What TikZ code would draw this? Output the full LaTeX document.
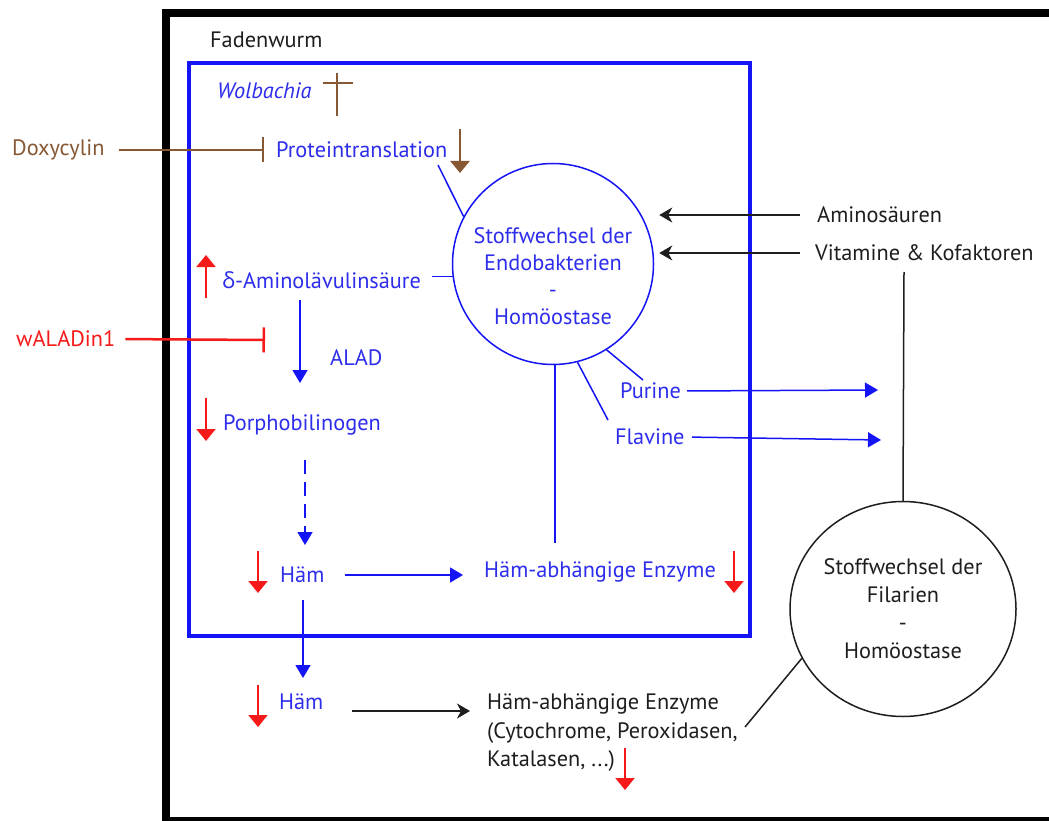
\documentclass[tikz,border=0pt]{standalone}
\usepackage{fontspec}
\setmainfont{PT Sans}
\newfontfamily\grk{Open Sans}
\usetikzlibrary{arrows.meta,calc,shapes.geometric}
\definecolor{bblue}{RGB}{20,20,245}
\definecolor{tblue}{RGB}{45,45,235}
\definecolor{brn}{RGB}{135,88,52}
\definecolor{rd}{RGB}{245,25,25}
\definecolor{ink}{RGB}{30,30,30}
\begin{document}
\begin{tikzpicture}[x=1pt,y=-1pt,
  txt/.style={inner sep=0pt, anchor=west, font=\fontsize{22.3}{27}\selectfont},
  btxt/.style={txt, text=tblue},
  ktxt/.style={txt, text=ink},
  rtxt/.style={txt, text=rd},
  brtxt/.style={txt, text=brn},
  bline/.style={draw=bblue, line width=1.5pt},
  kline/.style={draw=ink, line width=1.5pt},
  barrow/.style={bline, -{Triangle[length=13pt,width=15pt]}},
  karrow/.style={kline, -{Stealth[length=13pt,width=15pt,inset=4pt]}},
  rarrow/.style={draw=rd, line width=2pt, -{Triangle[length=12pt,width=19pt]}},
  brarrow/.style={draw=brn, line width=2.5pt, -{Triangle[length=12pt,width=19pt]}},
  rinh/.style={draw=rd, line width=2.5pt, -{Bar[width=25pt]}},
  brinh/.style={draw=brn, line width=2.5pt, -{Bar[width=25pt]}}
]
\useasboundingbox (0,0) rectangle (1049,821);
\clip (0,0) rectangle (1049,821);
\fill[white] (0,0) rectangle (1049,821);

% frames
\draw[line width=8pt, draw=black] (1070,13.5) -- (166,13.5) -- (166,821) -- (1070,821);
\draw[draw=bblue, line width=4pt] (189,63) rectangle (750,636);

% text nodes
\node[ktxt] (fad) at (210,40) {Fadenwurm};
\node[btxt, font=\fontsize{22.3}{27}\selectfont\itshape] (wol) at (217,91) {Wolbachia};
\node[brtxt] (doxy) at (12,150) {Doxycylin};
\node[btxt] (prot) at (276,150) {Proteintranslation};
\node[ktxt] (amino) at (817,215) {Aminosäuren};
\node[ktxt] (vita) at (815,253) {Vitamine \& Kofaktoren};
\node[btxt] (dala) at (222,280) {{\grk δ}-Aminolävulinsäure};
\node[rtxt] (walad) at (16,339) {wALADin1};
\node[btxt] (alad) at (330,358) {ALAD};
\node[btxt] (porph) at (223,425) {Porphobilinogen};
\node[btxt] (haem1) at (280,575) {Häm};
\node[btxt] (enz1) at (484,572) {Häm-abhängige Enzyme};
\node[btxt] (purine) at (620,391) {Purine};
\node[btxt] (flavine) at (615,437) {Flavine};
\node[btxt] (haem2) at (279,702) {Häm};
\node[ktxt, align=left, font=\fontsize{22.3}{28.5}\selectfont] (enz2) at (487,733) {Häm-abhängige Enzyme\\(Cytochrome, Peroxidasen,\\Katalasen, ...)};

\node[circle, draw=bblue, line width=1.5pt, minimum size=201pt, inner sep=0pt] (endo) at (553,264) {};
\node[align=center, text=tblue, inner sep=0pt, font=\fontsize{22.3}{27}\selectfont] (endotxt) at (553,276)
      {Stoffwechsel der\\Endobakterien\\-\\Homöostase};
\node[ellipse, draw=ink, line width=1.5pt, minimum width=226pt, minimum height=215pt, inner sep=0pt,
      align=center, text=ink, font=\fontsize{22.3}{28}\selectfont] (fil) at (903,609)
      {Stoffwechsel der\\Filarien\\-\\Homöostase};

% Wolbachia cross
\draw[draw=brn, line width=2pt] (337,73) -- (337,116);
\draw[draw=brn, line width=2pt] (323,83) -- (353,83);

% inhibitions
\coordinate (doxybar) at (264,150);
\draw[brinh, shorten <=14pt] (doxy.east) -- (doxybar);
\coordinate (waladbar) at (265,340);
\draw[rinh, shorten <=10pt] (walad.east) -- (waladbar);

% brown down arrow
\coordinate (pr1) at (460,129);
\coordinate (pr2) at (460,173);
\draw[brarrow] (pr1) -- (pr2);

% red indicator arrows
\coordinate (r1a) at (206,298); \coordinate (r1b) at (206,255);
\draw[rarrow] (r1a) -- (r1b);
\coordinate (r2a) at (206,398); \coordinate (r2b) at (206,441);
\draw[rarrow] (r2a) -- (r2b);
\coordinate (r3a) at (258,551); \coordinate (r3b) at (258,593);
\draw[rarrow] (r3a) -- (r3b);
\coordinate (r4a) at (734,551); \coordinate (r4b) at (734,593);
\draw[rarrow] (r4a) -- (r4b);
\coordinate (r5a) at (258,685); \coordinate (r5b) at (258,727);
\draw[rarrow] (r5a) -- (r5b);
\coordinate (r6a) at (625,748); \coordinate (r6b) at (625,790);
\draw[rarrow] (r6a) -- (r6b);

% endobacteria connections
\coordinate (protend) at (438,165);
\draw[bline] (protend) -- (endo.152);
\draw[bline] ($(endo.187 -| dala.east)+(11,0)$) -- (endo.187);
\coordinate (purend) at (643,380);
\draw[bline] (endo.302) -- (purend);
\coordinate (flavend) at (608,420);
\draw[bline] (endo.284) -- (flavend);
\coordinate (enzline) at (555,543);
\draw[bline] (endo.south -| enzline) -- (enzline);

% pathway arrows
\coordinate (a1) at (300,300); \coordinate (a2) at (300,383);
\draw[barrow] (a1) -- (a2);
\coordinate (d1) at (305,460); \coordinate (d2) at (305,545);
\draw[barrow, dash pattern=on 14pt off 8pt] (d1) -- (d2);
\draw[barrow, shorten <=20pt] (haem1.east) -- ([xshift=-21pt]enz1.west |- haem1.east);
\coordinate (h1) at (303,600); \coordinate (h2) at (303,678);
\draw[barrow] (h1) -- (h2);
\coordinate (h2e) at (352,711);
\draw[karrow, shorten >=17pt] (h2e) -- (enz2.west |- h2e);

% purine / flavine exports
\coordinate (pout) at (878,390);
\draw[barrow, shorten <=6pt] (purine.east) -- (pout);
\coordinate (fout) at (881,440);
\draw[barrow, shorten <=7pt] (flavine.east) -- (fout);

% inputs
\draw[karrow, shorten <=17pt, shorten >=5pt] (amino.west) -- (endo.east |- amino.west);
\draw[karrow, shorten <=15pt, shorten >=5pt] (vita.west) -- (endo.east |- vita.west);

% filarien connections
\coordinate (vline) at (904,272);
\draw[kline] (vline) -- (fil.north);
\coordinate (fline) at (745,727);
\draw[kline] (fil.206) -- (fline);
\end{tikzpicture}
\end{document}
